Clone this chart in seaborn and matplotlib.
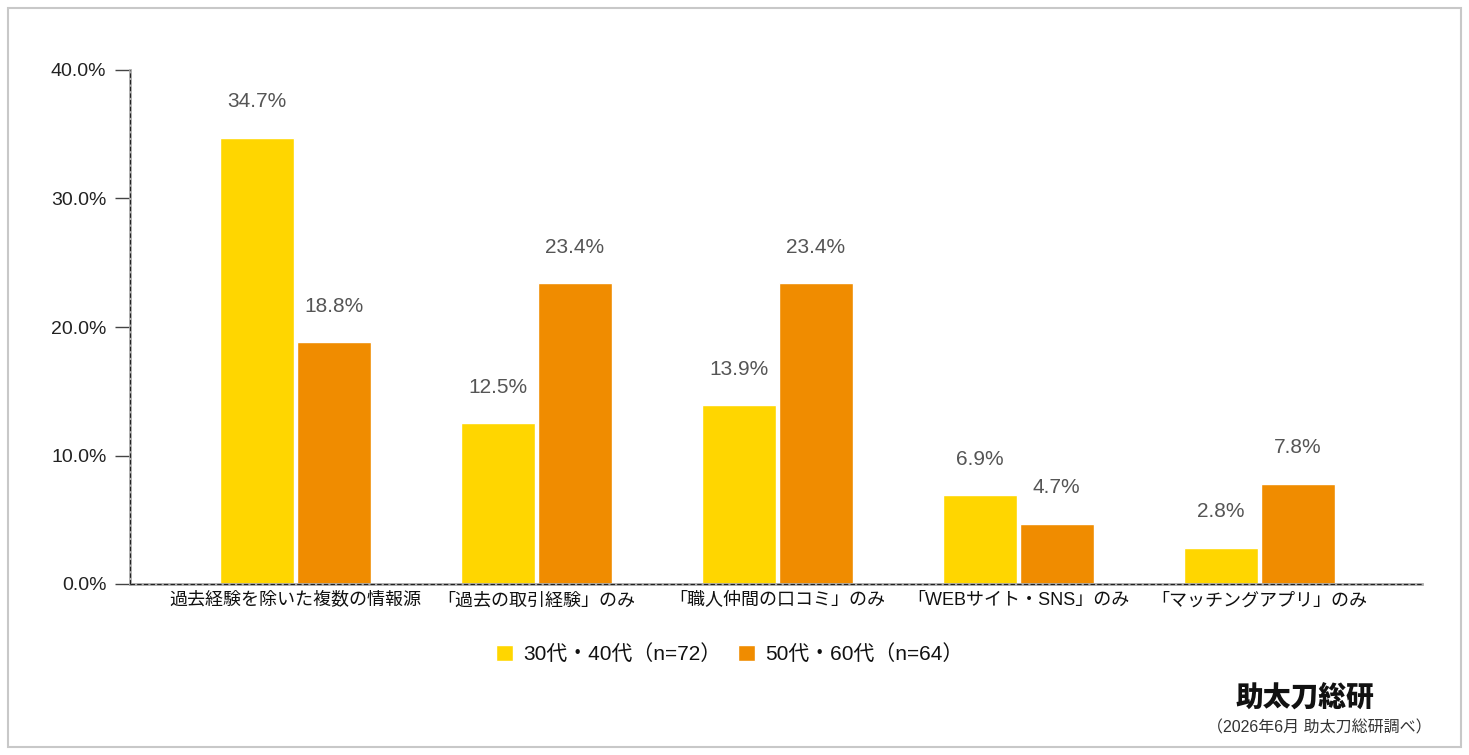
import matplotlib
matplotlib.use("Agg")
import matplotlib.pyplot as plt
import seaborn as sns
import pandas as pd
from matplotlib.patches import Rectangle, Patch

categories = ["過去経験を除いた複数の情報源", "「過去の取引経験」のみ", "「職人仲間の口コミ」のみ",
              "「WEBサイト・SNS」のみ", "「マッチングアプリ」のみ"]
series_names = ["30代・40代（n=72）", "50代・60代（n=64）"]
values_3040 = [34.7, 12.5, 13.9, 6.9, 2.8]
values_5060 = [18.8, 23.4, 23.4, 4.7, 7.8]
yticks = [0, 10, 20, 30, 40]
colors = ["#FFD600", "#F08C00"]

sns.set_theme(style="white")
plt.rcParams['font.family'] = ['Liberation Sans', 'Noto Sans CJK JP', 'DejaVu Sans']

df = pd.DataFrame({
    "category": categories * 2,
    "value": values_3040 + values_5060,
    "series": [series_names[0]] * 5 + [series_names[1]] * 5,
})

fig = plt.figure(figsize=(14.69, 7.55), dpi=100)
ax = fig.add_axes([130 / 1469, 1 - 584 / 755, (1422 - 130) / 1469, (584 - 70) / 755])

sns.barplot(data=df, x="category", y="value", hue="series", palette=colors,
            width=0.64, gap=0.04, ax=ax, legend=False, saturation=1)

ax.set_xlim(-0.685, 4.676)
ax.set_ylim(0, 40)
ax.set_yticks(yticks)
ax.set_yticklabels([f"{v:.1f}%" for v in yticks], fontsize=14, color="#222222")
ax.tick_params(axis="y", which="both", left=True, length=11, width=1, color="#444444", pad=6)
ax.tick_params(axis="x", length=0, pad=6, labelsize=13, labelcolor="#111111")
ax.set_xlabel("")
ax.set_ylabel("")

for c in ax.containers:
    for bar in c:
        h = bar.get_height()
        ax.annotate(f"{h:.1f}%", (bar.get_x() + bar.get_width() / 2, h),
                    xytext=(0, 26), textcoords="offset points", ha="center", va="center",
                    fontsize=15, color="#555555")

for s in ["top", "right"]:
    ax.spines[s].set_visible(False)
for s in ["left", "bottom"]:
    ax.spines[s].set_color("#aaaaaa")
    ax.spines[s].set_linewidth(2)
ax.axvline(-0.685, color="#222222", lw=0.8, ls=(0, (4, 2)), zorder=5, clip_on=False)
ax.axhline(0, color="#222222", lw=0.8, ls=(0, (4, 2)), zorder=5, clip_on=False)

handles = [Patch(facecolor=colors[0], label=series_names[0]),
           Patch(facecolor=colors[1], label=series_names[1])]
fig.legend(handles=handles, loc="center", bbox_to_anchor=(730 / 1469, 1 - 654 / 755),
           ncol=2, frameon=False, fontsize=15, handlelength=0.8, handleheight=0.8,
           handletextpad=0.5, columnspacing=0.8, labelcolor="#111111")

fig.patches.append(Rectangle((8 / 1469, 8 / 755), 1453 / 1469, 739 / 755,
                             transform=fig.transFigure, fill=False,
                             edgecolor="#c8c8c8", lw=1.5))

fig.text(1305 / 1469, 1 - 697 / 755, "助太刀総研", ha="center", va="center",
         fontsize=20, fontweight="black", color="#111111",
         family=['Noto Sans CJK JP'])
fig.text(1432 / 1469, 1 - 728 / 755, "（2026年6月 助太刀総研調べ）", ha="right", va="center",
         fontsize=11.5, color="#333333")

fig.savefig("out.png", dpi=100)
